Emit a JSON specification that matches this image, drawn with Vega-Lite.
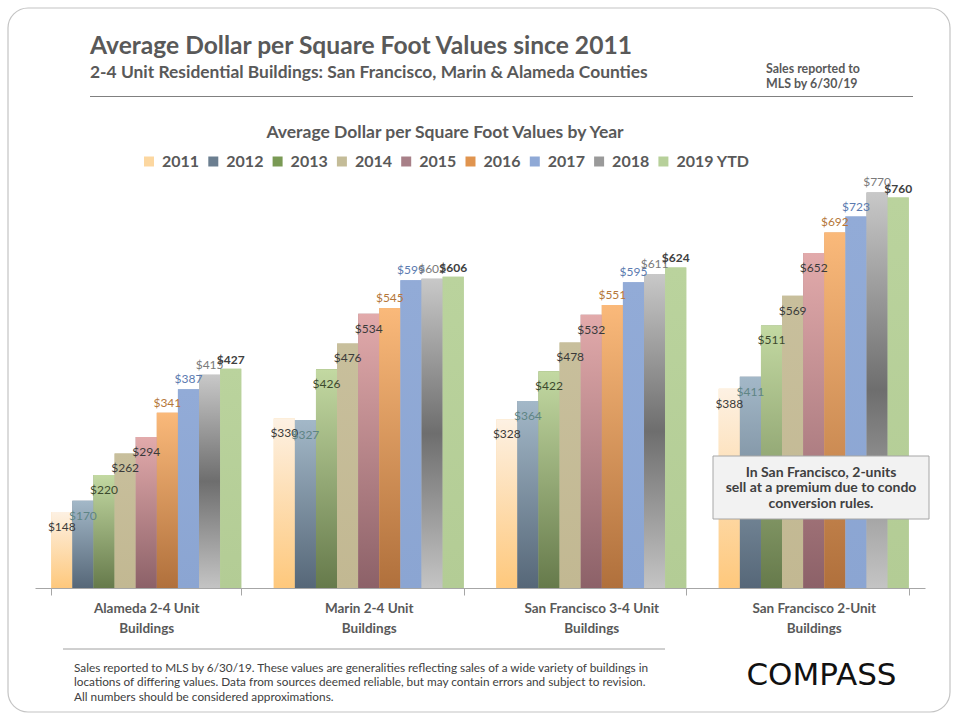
{
  "$schema": "https://vega.github.io/schema/vega-lite/v6.json",
  "width": 890,
  "height": 411,
  "autosize": {"type": "none"},
  "padding": {"left": 35, "top": 177, "right": 35, "bottom": 132},
  "background": "white",
  "config": {"font": "Lato", "view": {"stroke": null}},
  "data": {
    "values": [
      {"building": "Alameda 2-4 Unit Buildings", "year": "2011", "value": 148},
      {"building": "Alameda 2-4 Unit Buildings", "year": "2012", "value": 170},
      {"building": "Alameda 2-4 Unit Buildings", "year": "2013", "value": 220},
      {"building": "Alameda 2-4 Unit Buildings", "year": "2014", "value": 262},
      {"building": "Alameda 2-4 Unit Buildings", "year": "2015", "value": 294},
      {"building": "Alameda 2-4 Unit Buildings", "year": "2016", "value": 341},
      {"building": "Alameda 2-4 Unit Buildings", "year": "2017", "value": 387},
      {"building": "Alameda 2-4 Unit Buildings", "year": "2018", "value": 415},
      {"building": "Alameda 2-4 Unit Buildings", "year": "2019 YTD", "value": 427},
      {"building": "Marin 2-4 Unit Buildings", "year": "2011", "value": 330},
      {"building": "Marin 2-4 Unit Buildings", "year": "2012", "value": 327},
      {"building": "Marin 2-4 Unit Buildings", "year": "2013", "value": 426},
      {"building": "Marin 2-4 Unit Buildings", "year": "2014", "value": 476},
      {"building": "Marin 2-4 Unit Buildings", "year": "2015", "value": 534},
      {"building": "Marin 2-4 Unit Buildings", "year": "2016", "value": 545},
      {"building": "Marin 2-4 Unit Buildings", "year": "2017", "value": 599},
      {"building": "Marin 2-4 Unit Buildings", "year": "2018", "value": 602},
      {"building": "Marin 2-4 Unit Buildings", "year": "2019 YTD", "value": 606},
      {"building": "San Francisco 3-4 Unit Buildings", "year": "2011", "value": 328},
      {"building": "San Francisco 3-4 Unit Buildings", "year": "2012", "value": 364},
      {"building": "San Francisco 3-4 Unit Buildings", "year": "2013", "value": 422},
      {"building": "San Francisco 3-4 Unit Buildings", "year": "2014", "value": 478},
      {"building": "San Francisco 3-4 Unit Buildings", "year": "2015", "value": 532},
      {"building": "San Francisco 3-4 Unit Buildings", "year": "2016", "value": 551},
      {"building": "San Francisco 3-4 Unit Buildings", "year": "2017", "value": 595},
      {"building": "San Francisco 3-4 Unit Buildings", "year": "2018", "value": 611},
      {"building": "San Francisco 3-4 Unit Buildings", "year": "2019 YTD", "value": 624},
      {"building": "San Francisco 2-Unit Buildings", "year": "2011", "value": 388},
      {"building": "San Francisco 2-Unit Buildings", "year": "2012", "value": 411},
      {"building": "San Francisco 2-Unit Buildings", "year": "2013", "value": 511},
      {"building": "San Francisco 2-Unit Buildings", "year": "2014", "value": 569},
      {"building": "San Francisco 2-Unit Buildings", "year": "2015", "value": 652},
      {"building": "San Francisco 2-Unit Buildings", "year": "2016", "value": 692},
      {"building": "San Francisco 2-Unit Buildings", "year": "2017", "value": 723},
      {"building": "San Francisco 2-Unit Buildings", "year": "2018", "value": 770},
      {"building": "San Francisco 2-Unit Buildings", "year": "2019 YTD", "value": 760}
    ]
  },
  "layer": [
    {
      "data": {"values": [{}]},
      "mark": {"type": "rect", "filled": false, "stroke": "#c4c4c4", "strokeWidth": 1.2, "cornerRadius": 20},
      "encoding": {"x": {"value": -27}, "x2": {"value": 915}, "y": {"value": -169}, "y2": {"value": 535}}
    },
    {
      "data": {"values": [{}]},
      "mark": {"type": "text", "text": "Average Dollar per Square Foot Values since 2011", "font": "Lato", "fontSize": 24.6, "fontWeight": "bold", "color": "#595959", "align": "left", "baseline": "alphabetic"},
      "encoding": {"x": {"value": 55}, "y": {"value": -123}}
    },
    {
      "data": {"values": [{}]},
      "mark": {"type": "text", "text": "2-4 Unit Residential Buildings: San Francisco, Marin & Alameda Counties", "font": "Lato", "fontSize": 17.4, "fontWeight": "bold", "color": "#595959", "align": "left", "baseline": "alphabetic"},
      "encoding": {"x": {"value": 55}, "y": {"value": -99.5}}
    },
    {
      "data": {"values": [{}]},
      "mark": {"type": "text", "text": ["Sales reported to", "MLS by 6/30/19"], "font": "Lato", "fontSize": 12.4, "fontWeight": "bold", "color": "#595959", "align": "left", "baseline": "alphabetic", "lineHeight": 15.5},
      "encoding": {"x": {"value": 731}, "y": {"value": -104.5}}
    },
    {
      "data": {"values": [{}]},
      "mark": {"type": "rule", "color": "#808080", "strokeWidth": 1},
      "encoding": {"x": {"value": 55}, "x2": {"value": 878}, "y": {"value": -80.5}}
    },
    {
      "data": {"values": [{}]},
      "mark": {"type": "rule", "color": "#a0a0a0", "strokeWidth": 1},
      "encoding": {"x": {"value": 28}, "x2": {"value": 630}, "y": {"value": 472}}
    },
    {
      "data": {"values": [{}]},
      "mark": {"type": "text", "text": ["Sales reported to MLS by 6/30/19. These values are generalities reflecting sales of a wide variety of buildings in", "locations of differing values. Data from sources deemed reliable, but may contain errors and subject to revision.", "All numbers  should be considered approximations."], "font": "Lato", "fontSize": 11.8, "color": "#404040", "align": "left", "baseline": "alphabetic", "lineHeight": 14.5},
      "encoding": {"x": {"value": 39}, "y": {"value": 494.5}}
    },
    {
      "data": {"values": [{}]},
      "mark": {"type": "text", "text": "COMPASS", "font": "DejaVu Sans", "fontSize": 31, "color": "#111111", "align": "center", "baseline": "alphabetic"},
      "encoding": {"x": {"value": 786.5}, "y": {"value": 508}}
    },
    {
      "encoding": {
        "x": {
          "field": "building", "type": "nominal",
          "sort": ["Alameda 2-4 Unit Buildings", "Marin 2-4 Unit Buildings", "San Francisco 3-4 Unit Buildings", "San Francisco 2-Unit Buildings"],
          "scale": {"paddingInner": 0.146, "paddingOuter": 0.073},
          "axis": {
            "title": null, "tickBand": "extent", "labelAngle": 0,
            "labelExpr": "datum.label ? [replace(datum.label, ' Buildings', ''), 'Buildings'] : ''",
            "labelFont": "Lato", "labelFontSize": 13.5, "labelFontWeight": "bold", "labelColor": "#595959",
            "labelLineHeight": 20, "labelPadding": 6, "labelLimit": 300,
            "tickSize": 7, "domainColor": "#a6a6a6", "tickColor": "#a6a6a6", "grid": false
          }
        },
        "xOffset": {
          "field": "year", "type": "nominal",
          "sort": ["2011", "2012", "2013", "2014", "2015", "2016", "2017", "2018", "2019 YTD"],
          "scale": {"paddingInner": 0, "paddingOuter": 0}
        },
        "y": {"field": "value", "type": "quantitative", "scale": {"domain": [0, 800], "nice": false}, "axis": null}
      },
      "layer": [
        {
          "mark": {"type": "bar"},
          "encoding": {
            "fill": {
              "field": "year", "type": "nominal",
              "scale": {
                "domain": ["2011", "2012", "2013", "2014", "2015", "2016", "2017", "2018", "2019 YTD"],
                "range": ["#fcd7a0", "#6b7e90", "#7a9a55", "#c4bc98", "#a88088", "#e0944f", "#8fa9d6", "#9a9a9a", "#b7d09a"]
              },
              "legend": {
                "orient": "none", "legendX": 106, "legendY": -53, "direction": "horizontal", "columns": 9,
                "title": "Average Dollar per Square Foot Values by Year",
                "titleFont": "Lato", "titleFontSize": 17.5, "titleFontWeight": "bold", "titleColor": "#595959",
                "titleAnchor": "middle", "titleOrient": "top", "titlePadding": 12, "titleLimit": 700,
                "labelFont": "Lato", "labelFontSize": 16, "labelFontWeight": "bold", "labelColor": "#595959",
                "symbolType": "square", "symbolSize": 100, "symbolStrokeWidth": 0, "labelOffset": 5,
                "columnPadding": 5.3, "padding": 0
              }
            }
          }
        },
        {
          "transform": [{"filter": "datum.year === '2011'"}],
          "mark": {"type": "bar", "color": {"gradient": "linear", "x1": 0, "y1": 0, "x2": 0, "y2": 1, "stops": [{"offset": 0, "color": "#fdf1e3"}, {"offset": 1, "color": "#fec87c"}]}}
        },
        {
          "transform": [{"filter": "datum.year === '2012'"}],
          "mark": {"type": "bar", "color": {"gradient": "linear", "x1": 0, "y1": 0, "x2": 0, "y2": 1, "stops": [{"offset": 0, "color": "#a3b8c8"}, {"offset": 1, "color": "#566778"}]}}
        },
        {
          "transform": [{"filter": "datum.year === '2013'"}],
          "mark": {"type": "bar", "color": {"gradient": "linear", "x1": 0, "y1": 0, "x2": 0, "y2": 1, "stops": [{"offset": 0, "color": "#c3d9a2"}, {"offset": 1, "color": "#667a4b"}]}}
        },
        {
          "transform": [{"filter": "datum.year === '2014'"}],
          "mark": {"type": "bar", "color": {"gradient": "linear", "x1": 0, "y1": 0, "x2": 0, "y2": 1, "stops": [{"offset": 0, "color": "#c8bf9c"}, {"offset": 1, "color": "#c2b892"}]}}
        },
        {
          "transform": [{"filter": "datum.year === '2015'"}],
          "mark": {"type": "bar", "color": {"gradient": "linear", "x1": 0, "y1": 0, "x2": 0, "y2": 1, "stops": [{"offset": 0, "color": "#e2aaab"}, {"offset": 1, "color": "#8c6168"}]}}
        },
        {
          "transform": [{"filter": "datum.year === '2016'"}],
          "mark": {"type": "bar", "color": {"gradient": "linear", "x1": 0, "y1": 0, "x2": 0, "y2": 1, "stops": [{"offset": 0, "color": "#fab97a"}, {"offset": 1, "color": "#b0703c"}]}}
        },
        {
          "transform": [{"filter": "datum.year === '2017'"}],
          "mark": {"type": "bar", "color": {"gradient": "linear", "x1": 0, "y1": 0, "x2": 0, "y2": 1, "stops": [{"offset": 0, "color": "#92abd7"}, {"offset": 1, "color": "#8ba5d2"}]}}
        },
        {
          "transform": [{"filter": "datum.year === '2018'"}],
          "mark": {"type": "bar", "color": {"gradient": "linear", "x1": 0, "y1": 0, "x2": 0, "y2": 1, "stops": [{"offset": 0, "color": "#c8c8c8"}, {"offset": 0.5, "color": "#6e6e6e"}, {"offset": 1, "color": "#c4c4c4"}]}}
        },
        {
          "transform": [{"filter": "datum.year === '2019 YTD'"}],
          "mark": {"type": "bar", "color": {"gradient": "linear", "x1": 0, "y1": 0, "x2": 0, "y2": 1, "stops": [{"offset": 0, "color": "#bad39d"}, {"offset": 1, "color": "#b3cc95"}]}}
        },
        {
          "transform": [{"filter": "indexof(['2011','2012','2013','2014','2015'], datum.year) >= 0"}],
          "mark": {"type": "text", "baseline": "top", "dy": 10, "font": "Lato", "fontSize": 12},
          "encoding": {
            "text": {"field": "value", "type": "quantitative", "format": "$,.0f"},
            "color": {
              "field": "year", "type": "nominal", "legend": null,
              "scale": {
                "domain": ["2011", "2012", "2013", "2014", "2015", "2016", "2017", "2018", "2019 YTD"],
                "range": ["#3a3a3a", "#5f8585", "#3d4a2e", "#3a3a3a", "#3a3a3a", "#b5773a", "#5b7bb0", "#7a7a7a", "#404040"]
              }
            }
          }
        },
        {
          "transform": [{"filter": "indexof(['2016','2017','2018'], datum.year) >= 0"}],
          "mark": {"type": "text", "baseline": "bottom", "dy": -3, "font": "Lato", "fontSize": 12},
          "encoding": {
            "text": {"field": "value", "type": "quantitative", "format": "$,.0f"},
            "color": {
              "field": "year", "type": "nominal", "legend": null,
              "scale": {
                "domain": ["2011", "2012", "2013", "2014", "2015", "2016", "2017", "2018", "2019 YTD"],
                "range": ["#3a3a3a", "#5f8585", "#3d4a2e", "#3a3a3a", "#3a3a3a", "#b5773a", "#5b7bb0", "#7a7a7a", "#404040"]
              }
            }
          }
        },
        {
          "transform": [{"filter": "datum.year === '2019 YTD'"}],
          "mark": {"type": "text", "baseline": "bottom", "dy": -2, "font": "Lato", "fontSize": 12, "fontWeight": "bold", "color": "#404040"},
          "encoding": {
            "text": {"field": "value", "type": "quantitative", "format": "$,.0f"}
          }
        }
      ]
    },
    {
      "data": {"values": [{}]},
      "mark": {"type": "rect", "fill": "#f2f2f2", "stroke": "#a6a6a6", "strokeWidth": 1},
      "encoding": {"x": {"value": 678}, "x2": {"value": 894}, "y": {"value": 279}, "y2": {"value": 342}}
    },
    {
      "data": {"values": [{}]},
      "mark": {"type": "text", "text": ["In San Francisco, 2-units", "sell at a  premium due to condo", "conversion rules."], "font": "Lato", "fontSize": 14, "fontWeight": "bold", "color": "#404040", "align": "center", "baseline": "alphabetic", "lineHeight": 15.5},
      "encoding": {"x": {"value": 786}, "y": {"value": 299.5}}
    }
  ]
}
